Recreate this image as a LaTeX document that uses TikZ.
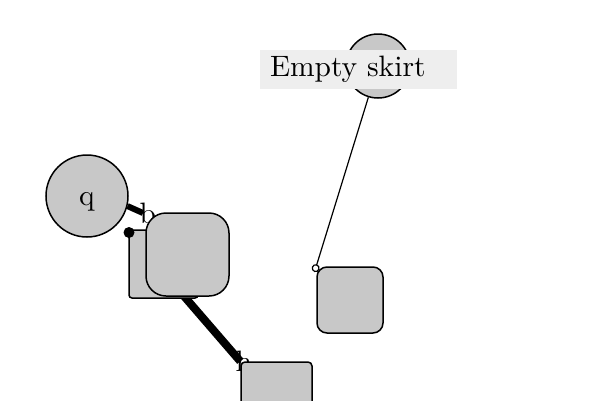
\documentclass[tikz,border=0pt]{standalone}
\usepackage{fontspec}
\setmainfont{lmroman10-regular.otf}
\usetikzlibrary{arrows.meta}
\pgfdeclarelayer{background}
\pgfsetlayers{background,main}
\definecolor{bodyfill}{HTML}{C8C8C8}
\definecolor{tagfill}{HTML}{EEEEEE}
\begin{document}
\begin{tikzpicture}[x=1pt,y=-1pt,
  every node/.style={font=\fontsize{29.5}{35}\selectfont},
  gbody/.style={draw, line width=1.5pt, fill=bodyfill, inner sep=0pt},
  ball/.style={gbody, circle},
  tile/.style={gbody, rectangle},
  tagbox/.style={fill=tagfill, inner xsep=10pt, inner ysep=0pt, align=left},
  endtext/.style={anchor=base west, inner sep=0pt},
  heavy/.style={line width=#1, line cap=butt},
  fine/.style={line width=1.2pt},
  dotmark/.style={circle, fill=black, inner sep=0pt, minimum size=11pt}]
\useasboundingbox (0,0) rectangle (600,400);

% free connector ends
\coordinate (qtip) at (143,213);
\coordinate (dotc) at (129,232.5);

% shapes
\node[ball, minimum size=82pt, label={[yshift=-5.6pt]center:q}] (q) at (87,196) {};
\node[ball, minimum size=64pt] (topc) at (378,66) {};
\node[tile, rounded corners=3pt, minimum width=69pt, minimum height=68pt] (back) at (163.5,264) {};
\node[tile, rounded corners=20pt, minimum size=83pt] (front) at (187.5,254.5) {};
\node[tile, rounded corners=10pt, minimum size=66pt] (right) at (350,300) {};
\node[tile, rounded corners=4pt, minimum width=71pt, minimum height=68pt] (low) at (276.5,396) {};
\node[tagbox, minimum width=197pt, minimum height=39pt, text width=177pt] (tag) at (358.5,69.5) {Empty skirt};
\node[dotmark] (dot) at (dotc) {};

% connectors and their end labels, kept behind the shapes
\begin{pgfonlayer}{background}
  \node[endtext] (lb) at (139.5,223) {b};
  \node[endtext] (lh) at (235.5,371) {h};
  \draw[heavy=6pt] (q.-14) -- (qtip);
  \draw[heavy=8pt] (dotc) -- (low.north west);
  \draw[fine, shorten >=-6pt, -{Circle[open,length=8pt]}] (topc) -- (right.north west);
\end{pgfonlayer}
\end{tikzpicture}
\end{document}
